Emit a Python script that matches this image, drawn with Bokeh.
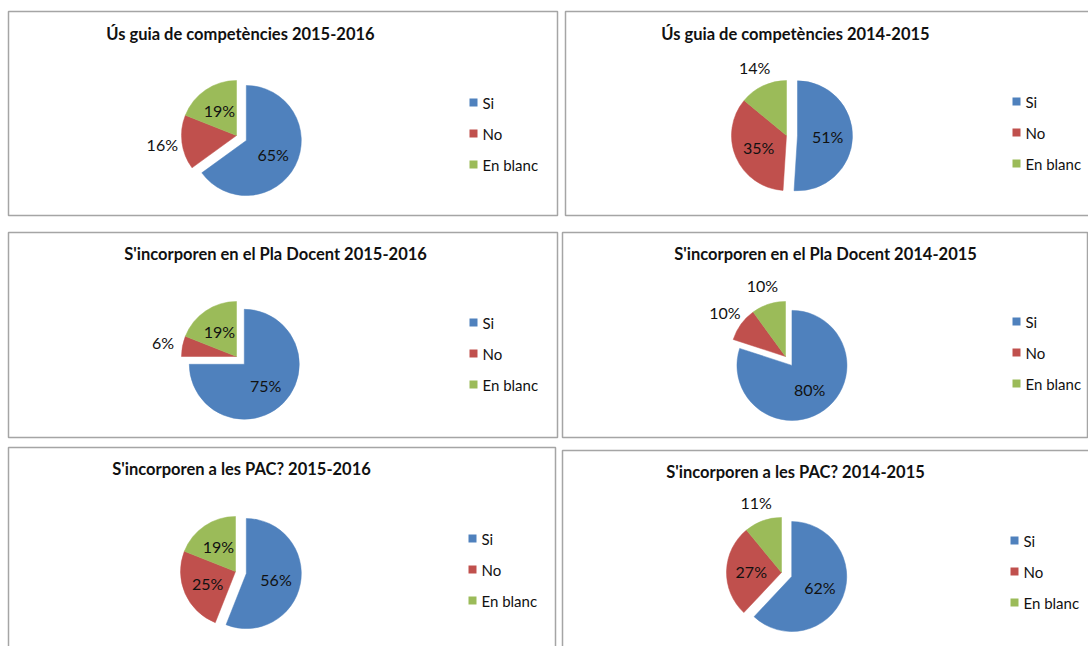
import math
from bokeh.plotting import figure
from bokeh.models import ColumnDataSource, Range1d
from bokeh.core.properties import value
from bokeh.embed import file_html
from bokeh.resources import INLINE

# ---------------- data ----------------
categories = ["Si", "No", "En blanc"]
titles = [
    "Ús guia de competències 2015-2016",
    "Ús guia de competències 2014-2015",
    "S'incorporen en el Pla Docent 2015-2016",
    "S'incorporen en el Pla Docent 2014-2015",
    "S'incorporen a les PAC? 2015-2016",
    "S'incorporen a les PAC? 2014-2015",
]
guia_2015_2016 = [65, 16, 19]
guia_2014_2015 = [51, 35, 14]
pla_2015_2016 = [75, 6, 19]
pla_2014_2015 = [80, 10, 10]
pac_2015_2016 = [56, 25, 19]
pac_2014_2015 = [62, 27, 11]
series = [guia_2015_2016, guia_2014_2015, pla_2015_2016,
          pla_2014_2015, pac_2015_2016, pac_2014_2015]

# ---------------- style / layout ----------------
colors = ["#4F81BD", "#C0504D", "#9BBB59"]
W, H = 1088, 646
R = 55
EXPLODE = 11
FONT = "Lato"
# box (x0, y0, x1, y1), pie centre, title centre x, title y, legend x, legend y (screen px, y down)
panels = [
    dict(box=(8, 11, 557, 215), pie=(236, 135), tx=240, ty=33, lx=469, ly=102),
    dict(box=(565, 11, 1095, 215), pie=(786, 135), tx=795, ty=33, lx=1012, ly=101),
    dict(box=(8, 232, 557, 437), pie=(236, 356), tx=275, ty=253, lx=469, ly=322),
    dict(box=(562, 232, 1087, 437), pie=(785, 356), tx=825, ty=253, lx=1012, ly=321),
    dict(box=(8, 447, 555, 660), pie=(235, 571), tx=241, ty=468, lx=468, ly=538),
    dict(box=(562, 450, 1095, 660), pie=(781, 572), tx=795, ty=471, lx=1010, ly=540),
]

def Y(y):
    return H - y

p = figure(width=W, height=H, x_range=Range1d(0, W), y_range=Range1d(0, H),
           output_backend="svg", toolbar_location=None, min_border=0)
p.axis.visible = False
p.grid.visible = False
p.outline_line_color = None
p.background_fill_color = "white"
p.border_fill_color = "white"

wx, wy, ws, we, wc = [], [], [], [], []
lx_, ly_, lt = [], [], []
for panel, vals in zip(panels, series):
    pcx, pcy = panel["pie"]
    total = float(sum(vals))
    cum = 0.0
    for i, v in enumerate(vals):
        f0 = cum / total
        f1 = (cum + v) / total
        cum += v
        mid = 2 * math.pi * (f0 + f1) / 2
        dx, dy = math.sin(mid), math.cos(mid)
        ex = EXPLODE if i == 0 else 0
        cx = pcx + ex * dx
        cy = Y(pcy) + ex * dy
        wx.append(cx); wy.append(cy)
        ws.append(math.pi / 2 - 2 * math.pi * f1)
        we.append(math.pi / 2 - 2 * math.pi * f0)
        wc.append(colors[i])
        d = 0.55 * R if v / total >= 0.17 else 1.36 * R
        lx_.append(cx + d * dx); ly_.append(cy + d * dy)
        lt.append(f"{v}%")

# panel boxes
bx0 = [pn["box"][0] for pn in panels]
bx1 = [pn["box"][2] for pn in panels]
by0 = [Y(pn["box"][3]) for pn in panels]
by1 = [Y(pn["box"][1]) for pn in panels]
p.quad(left=bx0, right=bx1, bottom=by0, top=by1, fill_color=None,
       line_color="#a5a5a5", line_width=1.5)

wsrc = ColumnDataSource(dict(x=wx, y=wy, start=ws, end=we, color=wc))
p.wedge(x="x", y="y", radius=R, radius_units="screen", start_angle="start",
        end_angle="end", direction="anticlock", fill_color="color",
        line_color="color", line_width=0.5, source=wsrc)

p.text(x=lx_, y=ly_, text=lt, text_align="center", text_baseline="middle",
       text_font=value(FONT), text_font_size="16px", text_color="#111111")

# titles
p.text(x=[pn["tx"] for pn in panels], y=[Y(pn["ty"]) for pn in panels], text=titles,
       text_align="center", text_baseline="middle", text_font=value(FONT),
       text_font_style="bold", text_font_size="16.5px", text_color="#111111")

# legends
sqx, sqy, sqc, tx, ty, tt = [], [], [], [], [], []
for pn in panels:
    for i, c in enumerate(categories):
        yy = Y(pn["ly"] + 31 * i)
        sqx.append(pn["lx"] + 4); sqy.append(yy); sqc.append(colors[i])
        tx.append(pn["lx"] + 13); ty.append(yy); tt.append(c)
p.scatter(x=sqx, y=sqy, marker="square", size=8, fill_color=sqc, line_color=None)
p.text(x=tx, y=ty, text=tt, text_align="left", text_baseline="middle",
       text_font=value(FONT), text_font_size="15px", text_color="#111111")

open("out.html", "w").write(file_html(p, INLINE))
